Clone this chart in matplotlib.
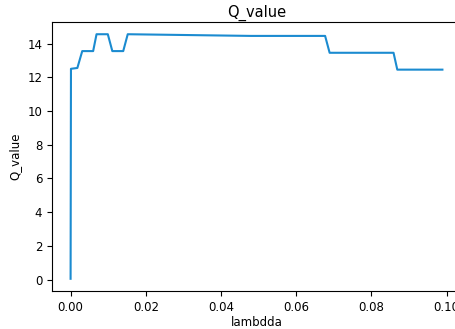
import matplotlib
matplotlib.use("Agg")
import matplotlib.pyplot as plt

# lambda values and Q values
lambdda = [0.0, 0.0001, 0.0018, 0.0031, 0.0060, 0.0069, 0.0099, 0.0111,
           0.0140, 0.0152, 0.0480, 0.0677, 0.0689, 0.0859, 0.0869, 0.0989]
q_value = [0.05, 12.5, 12.55, 13.55, 13.55, 14.55, 14.55, 13.55,
           13.55, 14.55, 14.45, 14.45, 13.45, 13.45, 12.45, 12.45]


def main():
    W, H = 455, 329
    fig = plt.figure(figsize=(W / 100, H / 100), dpi=100)
    # axes right edge runs past the canvas, like the cropped reference
    ax = fig.add_axes([52 / W, (H - 291) / H, 409 / W, (291 - 22) / H])
    ax.plot(lambdda, q_value, color="#1b8bd0", linewidth=1.5)
    ax.set_title("Q_value", fontsize=10.5, pad=4)
    ax.set_xlabel("lambdda", fontsize=8.5, labelpad=2)
    ax.set_ylabel("Q_value", fontsize=8.5, labelpad=4)
    ax.set_xticks([0.0, 0.02, 0.04, 0.06, 0.08, 0.10])
    ax.set_yticks(range(0, 15, 2))
    ax.tick_params(labelsize=8.5)
    fig.savefig("out.png", dpi=100)
    plt.close(fig)


if __name__ == "__main__":
    main()
